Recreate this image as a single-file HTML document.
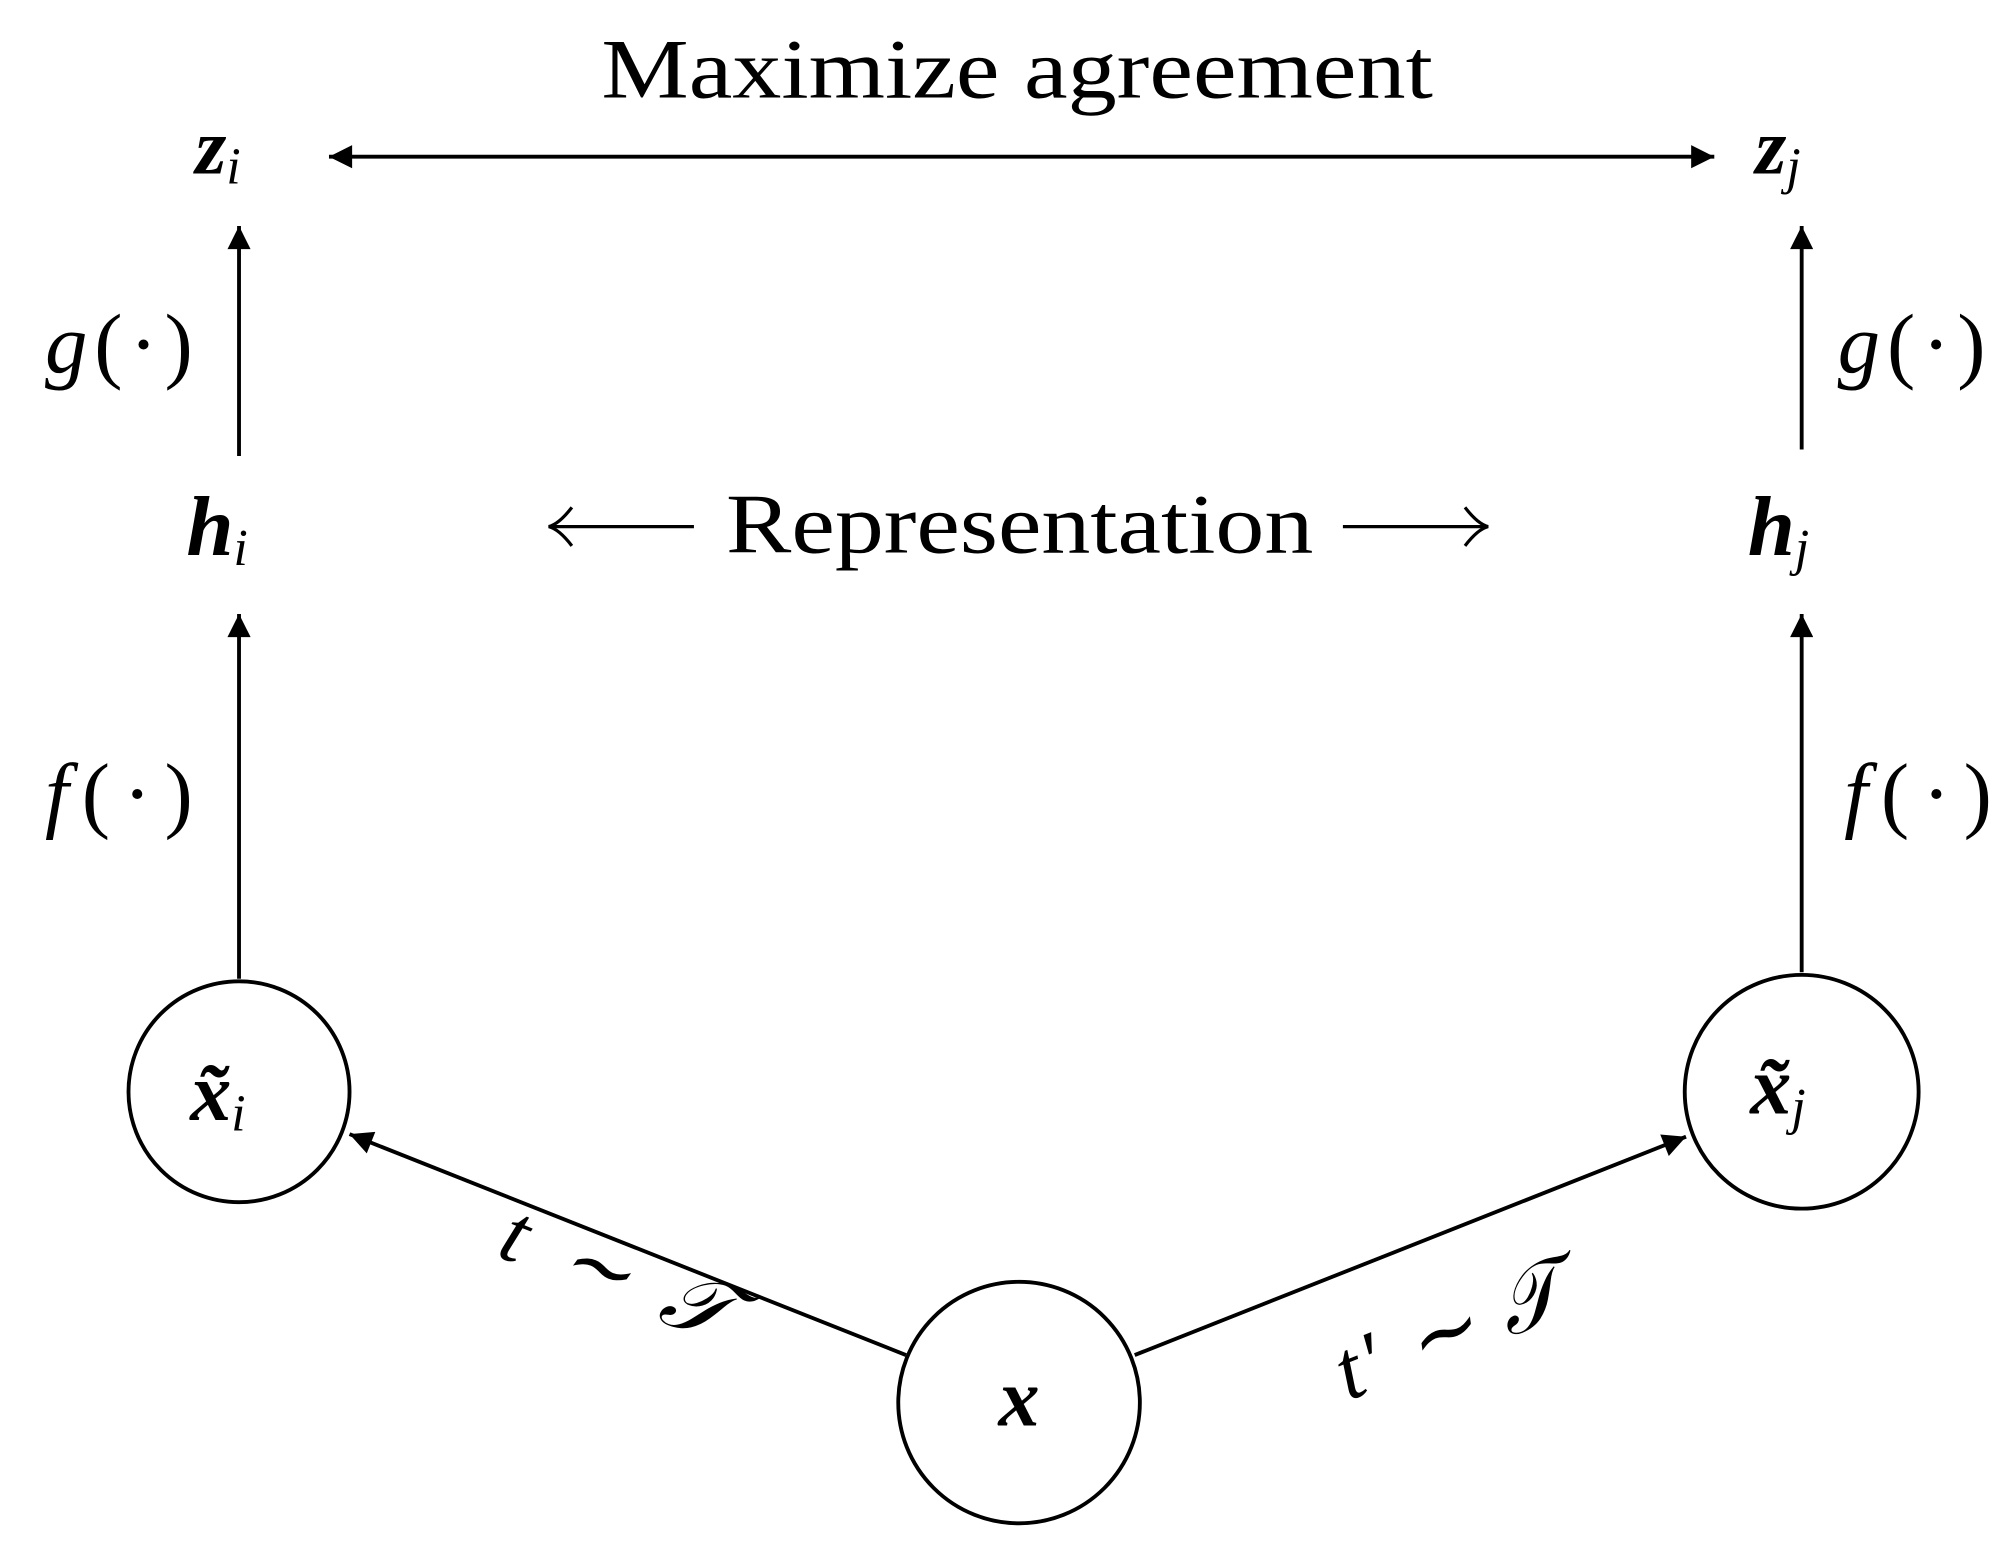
<!DOCTYPE html>
<html><head><meta charset="utf-8"><style>
html,body{margin:0;padding:0;background:#fff;}
svg{display:block;}
text{font-family:"Liberation Serif",serif;fill:#000;}
</style></head><body>
<svg width="2015" height="1549" viewBox="0 0 1568 1206" preserveAspectRatio="none" xmlns="http://www.w3.org/2000/svg">
<defs>
<marker id="b" viewBox="0 0 10 10" refX="10" refY="5" markerWidth="24" markerHeight="18" markerUnits="userSpaceOnUse" orient="auto-start-reverse">
<path d="M0,0 L10,5 L0,10 Z" fill="#000"/>
</marker>
</defs>
<text x="468" y="76" font-size="66" textLength="647" lengthAdjust="spacingAndGlyphs">Maximize agreement</text>
<line x1="256" y1="122" x2="1334" y2="122" stroke="#000" stroke-width="3" marker-start="url(#b)" marker-end="url(#b)"/>
<text x="152" y="135" font-size="62" font-weight="bold" font-style="italic">z<tspan font-size="40" font-weight="normal" dy="8">i</tspan></text>
<text x="1366" y="135" font-size="62" font-weight="bold" font-style="italic">z<tspan font-size="40" font-weight="normal" dy="8">j</tspan></text>
<line x1="186" y1="355" x2="186" y2="176" stroke="#000" stroke-width="3" marker-end="url(#b)"/>
<line x1="1402" y1="350" x2="1402" y2="176" stroke="#000" stroke-width="3" marker-end="url(#b)"/>
<text x="35" y="290" font-size="66" font-style="italic" textLength="115" lengthAdjust="spacing">g<tspan font-style="normal">(·)</tspan></text>
<text x="1430" y="290" font-size="66" font-style="italic" textLength="115" lengthAdjust="spacing">g<tspan font-style="normal">(·)</tspan></text>
<text x="145" y="432" font-size="66" font-weight="bold" font-style="italic">h<tspan font-size="40" font-weight="normal" dy="8">i</tspan></text>
<text x="1360" y="432" font-size="66" font-weight="bold" font-style="italic">h<tspan font-size="40" font-weight="normal" dy="8">j</tspan></text>
<text x="565" y="430" font-size="66" textLength="457" lengthAdjust="spacingAndGlyphs">Representation</text>
<line x1="540" y1="410" x2="427" y2="410" stroke="#000" stroke-width="2.5"/>
<path d="M445,395 Q435,408 427,410 Q435,412 445,425" fill="none" stroke="#000" stroke-width="2.5"/>
<line x1="1045" y1="410" x2="1158" y2="410" stroke="#000" stroke-width="2.5"/>
<path d="M1140,395 Q1150,408 1158,410 Q1150,412 1140,425" fill="none" stroke="#000" stroke-width="2.5"/>
<line x1="186" y1="762" x2="186" y2="478" stroke="#000" stroke-width="3" marker-end="url(#b)"/>
<line x1="1402" y1="757" x2="1402" y2="478" stroke="#000" stroke-width="3" marker-end="url(#b)"/>
<text x="35" y="640" font-size="66" font-style="italic" textLength="115" lengthAdjust="spacing">f<tspan font-style="normal">(·)</tspan></text>
<text x="1435" y="640" font-size="66" font-style="italic" textLength="115" lengthAdjust="spacing">f<tspan font-style="normal">(·)</tspan></text>
<circle cx="186" cy="850" r="86" fill="none" stroke="#000" stroke-width="3"/>
<circle cx="1402" cy="850" r="91" fill="none" stroke="#000" stroke-width="3"/>
<circle cx="793" cy="1092" r="94" fill="none" stroke="#000" stroke-width="3"/>
<text x="148" y="872" font-size="64" font-weight="bold" font-style="italic">x̃<tspan font-size="40" font-weight="normal" dy="8">i</tspan></text>
<text x="1362" y="867" font-size="64" font-weight="bold" font-style="italic">x̃<tspan font-size="40" font-weight="normal" dy="8">j</tspan></text>
<text x="793" y="1110" font-size="64" font-weight="bold" font-style="italic" text-anchor="middle">x</text>
<line x1="705" y1="1055" x2="272" y2="883" stroke="#000" stroke-width="3" marker-end="url(#b)"/>
<line x1="883" y1="1055" x2="1312" y2="885" stroke="#000" stroke-width="3" marker-end="url(#b)"/>
<text x="375" y="1010" font-size="66" font-style="italic" textLength="185" lengthAdjust="spacing" transform="rotate(21.7 465 1020)">t ∼ 𝒯</text>
<text x="1030" y="1060" font-size="66" font-style="italic" textLength="185" lengthAdjust="spacing" transform="rotate(-21.6 1120 1025)">t′ ∼ 𝒯</text>
</svg>
</body></html>
